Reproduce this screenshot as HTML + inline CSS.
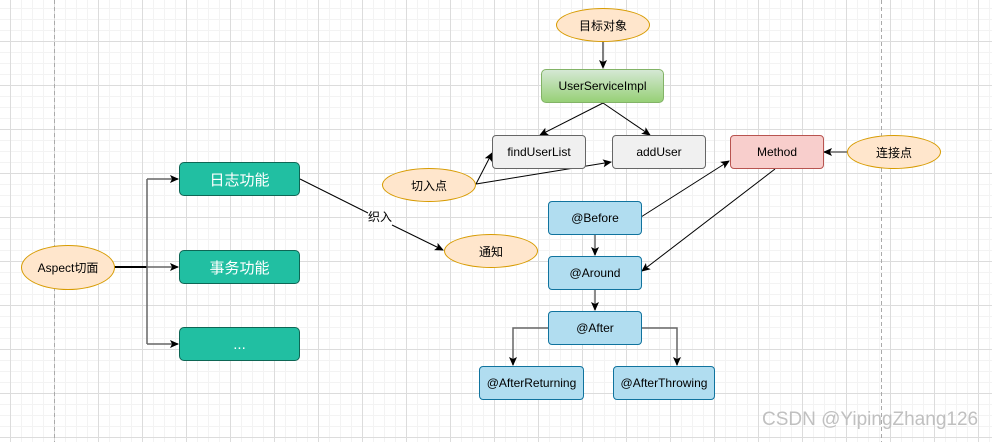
<!DOCTYPE html>
<html><head><meta charset="utf-8"><style>
html,body{margin:0;padding:0}
body{width:992px;height:442px;overflow:hidden;position:relative;background-color:#fff;
background-image:linear-gradient(to right,#dcdcdc 1px,transparent 1px),linear-gradient(to bottom,#dcdcdc 1px,transparent 1px),linear-gradient(to right,#f3f3f3 1px,transparent 1px),linear-gradient(to bottom,#f3f3f3 1px,transparent 1px);
background-size:44px 44px,44px 44px,11px 11px,11px 11px;
background-position:10px 0,0 41px,10px 0,0 41px;
font-family:"Liberation Sans","Noto Sans CJK SC",sans-serif;}
.n{position:absolute;box-sizing:border-box;display:flex;align-items:center;justify-content:center;font-size:12px;color:#000;}
.e{border:1px solid #d79b00;background:#ffe6cc;border-radius:50%;}
.t{border:1px solid #0e6655;background:#21bfa2;border-radius:5px;color:#fff;font-size:15px;}
.b{border:1px solid #10739e;background:#b1ddf0;border-radius:4px;}
.g{border:1px solid #666;background:#f0f0f0;border-radius:4px;}
svg{position:absolute;left:0;top:0}
</style></head><body>
<svg width="992" height="442">
<defs><marker id="a" markerWidth="10" markerHeight="10" refX="8" refY="5" orient="auto" markerUnits="userSpaceOnUse"><path d="M0,1 L9,5 L0,9 L2,5z" fill="#000"/></marker></defs>
<line x1="54.5" y1="0" x2="54.5" y2="442" stroke="#aaa" stroke-dasharray="4,3"/>
<line x1="881.5" y1="0" x2="881.5" y2="442" stroke="#aaa" stroke-dasharray="4,3"/>
<g stroke="#666" stroke-width="1.5" fill="none">
<path d="M114,267 H147"  stroke="#000" stroke-width="2"/>
<path d="M147,179 V344"/>
<path d="M147,179 H178" marker-end="url(#a)"/>
<path d="M147,267 H178" marker-end="url(#a)"/>
<path d="M147,344 H178" marker-end="url(#a)"/>
<path d="M595,234 V255" marker-end="url(#a)"/>
<path d="M595,289 V310" marker-end="url(#a)"/>
<path d="M548,328 H513 V365" marker-end="url(#a)"/>
<path d="M641,328 H677 V365" marker-end="url(#a)"/>
<path d="M847,152 H824" marker-end="url(#a)"/>
</g>
<g stroke="#000" stroke-width="1" fill="none">
<path d="M300,179 L368,213"/>
<path d="M392,225 L443,250" marker-end="url(#a)"/>
<path d="M603,41 V68" marker-end="url(#a)"/>
<path d="M603,103 L540,135" marker-end="url(#a)"/>
<path d="M603,103 L650,135" marker-end="url(#a)"/>
<path d="M476,184 L492,153" marker-end="url(#a)"/>
<path d="M476,184 L611,162" marker-end="url(#a)"/>
<path d="M641,217 L729,161" marker-end="url(#a)"/>
<path d="M775,169 L642,271" marker-end="url(#a)"/>
</g>
<text x="380" y="221" font-size="12" text-anchor="middle" font-family="Liberation Sans,Noto Sans CJK SC,sans-serif">织入</text>
</svg>
<div class="n e" style="left:21px;top:245px;width:94px;height:45px">Aspect切面</div>
<div class="n t" style="left:179px;top:162px;width:121px;height:34px">日志功能</div>
<div class="n t" style="left:179px;top:250px;width:121px;height:34px">事务功能</div>
<div class="n t" style="left:179px;top:327px;width:121px;height:34px">...</div>
<div class="n e" style="left:382px;top:168px;width:94px;height:34px">切入点</div>
<div class="n e" style="left:444px;top:234px;width:94px;height:34px">通知</div>
<div class="n e" style="left:556px;top:8px;width:94px;height:34px">目标对象</div>
<div class="n" style="left:541px;top:69px;width:123px;height:34px;border:1px solid #82b366;border-radius:5px;background:linear-gradient(#d5e8d4,#97d077)">UserServiceImpl</div>
<div class="n g" style="left:492px;top:135px;width:94px;height:34px">findUserList</div>
<div class="n g" style="left:612px;top:135px;width:94px;height:34px">addUser</div>
<div class="n" style="left:730px;top:135px;width:94px;height:34px;border:1px solid #b85450;background:#f8cecc;border-radius:4px">Method</div>
<div class="n e" style="left:847px;top:135px;width:94px;height:34px">连接点</div>
<div class="n b" style="left:548px;top:201px;width:94px;height:34px">@Before</div>
<div class="n b" style="left:548px;top:256px;width:94px;height:34px">@Around</div>
<div class="n b" style="left:548px;top:311px;width:94px;height:34px">@After</div>
<div class="n b" style="left:479px;top:366px;width:105px;height:34px">@AfterReturning</div>
<div class="n b" style="left:613px;top:366px;width:102px;height:34px">@AfterThrowing</div>
<div style="position:absolute;left:762px;top:409px;font-size:19px;color:#c0c0c0;white-space:nowrap">CSDN @YipingZhang126</div>
</body></html>
